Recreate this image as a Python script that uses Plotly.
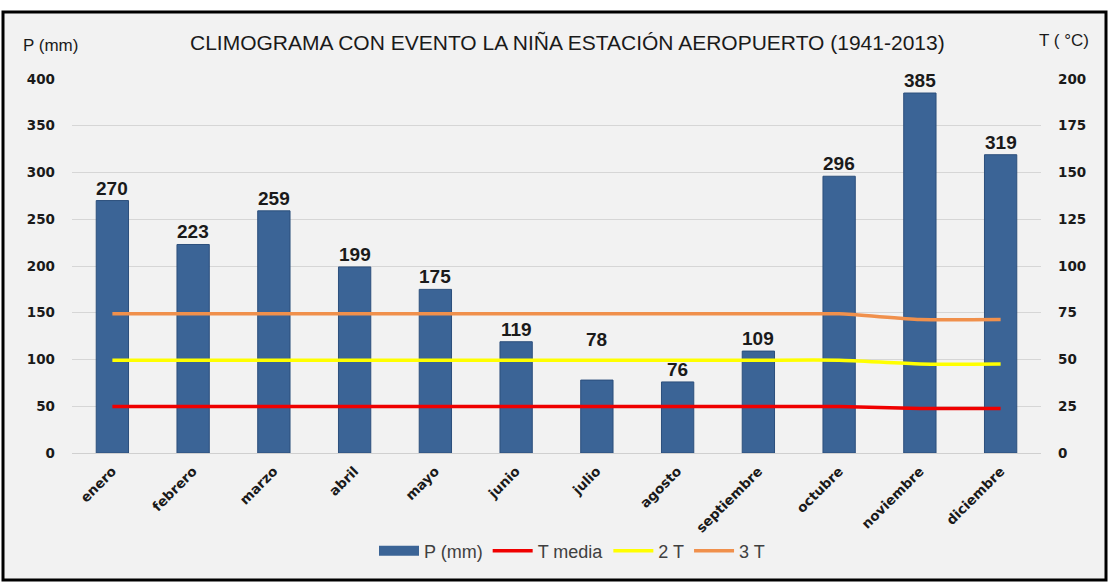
import plotly.graph_objects as go

meses = ["enero", "febrero", "marzo", "abril", "mayo", "junio", "julio",
         "agosto", "septiembre", "octubre", "noviembre", "diciembre"]
precip = [270, 223, 259, 199, 175, 119, 78, 76, 109, 296, 385, 319]
t_media = [24.8, 24.8, 24.8, 24.8, 24.8, 24.8, 24.8, 24.8, 24.8, 24.8, 23.8, 23.8]
t_2 = [49.6, 49.6, 49.6, 49.6, 49.6, 49.6, 49.6, 49.6, 49.6, 49.6, 47.6, 47.6]
t_3 = [74.4, 74.4, 74.4, 74.4, 74.4, 74.4, 74.4, 74.4, 74.4, 74.4, 71.4, 71.4]
left_ticks = [0, 50, 100, 150, 200, 250, 300, 350, 400]
right_ticks = [0, 25, 50, 75, 100, 125, 150, 175, 200]

W, H = 1110, 583
L, R, T, B = 72, 69, 79, 130
pw, ph = W - L - R, H - T - B
BAR_COLOR = "#3b6496"
# label lifted above the yellow line in the original (julio)
label_lift = {"julio": 28}


def px(x):
    return (x - L) / pw


def py(y):
    return (H - B - y) / ph


fig = go.Figure()
fig.add_trace(go.Bar(
    x=meses, y=precip, name="P (mm)", showlegend=False,
    marker=dict(color=BAR_COLOR, line=dict(color="#2c4f7c", width=1)),
    width=0.4,
))
# legend proxy for the bar series (wide rectangular swatch, as in the original)
fig.add_trace(go.Scatter(
    x=[None], y=[None], name="P (mm)", mode="lines",
    line=dict(color=BAR_COLOR, width=12), hoverinfo="skip",
))
for name, vals, col in [("T media", t_media, "#f00000"),
                        ("2 T", t_2, "#ffff00"),
                        ("3 T", t_3, "#f0904c")]:
    fig.add_trace(go.Scatter(
        x=meses, y=vals, name=name, yaxis="y2", mode="lines",
        line=dict(color=col, width=3.5, shape="spline", smoothing=0.6),
    ))

for m, v in zip(meses, precip):
    fig.add_annotation(
        x=m, y=v, xref="x", yref="y", text=f"<b>{v}</b>", showarrow=False,
        xanchor="center", yanchor="bottom", yshift=label_lift.get(m, 0),
        font=dict(family="Liberation Sans", size=19, color="#1a1a1a"),
    )

tickfont = dict(family="DejaVu Sans", size=13.5, color="#1a1a1a", weight="bold")

fig.update_layout(
    width=W, height=H,
    margin=dict(l=L, r=R, t=T, b=B),
    paper_bgcolor="white",
    plot_bgcolor="rgba(0,0,0,0)",
    bargap=0.6,
    showlegend=True,
    legend=dict(orientation="h", x=px(572), y=py(551), xanchor="center",
                yanchor="middle", font=dict(family="Liberation Sans", size=18,
                                            color="#404040"),
                itemwidth=40, traceorder="normal", bgcolor="rgba(0,0,0,0)"),
    xaxis=dict(
        tickangle=-45, showgrid=False, showline=True,
        linecolor="#d0d0d0", linewidth=1,
        tickfont=tickfont, ticklabelstandoff=4,
    ),
    yaxis=dict(
        range=[0, 400], tickvals=left_ticks, showgrid=True,
        gridcolor="#d6d6d6", gridwidth=1, zeroline=False,
        tickfont=tickfont, ticklabelstandoff=16,
    ),
    yaxis2=dict(
        range=[0, 200], tickvals=right_ticks, overlaying="y", side="right",
        showgrid=False, zeroline=False,
        tickfont=tickfont, ticklabelstandoff=16,
    ),
    shapes=[dict(type="rect", xref="paper", yref="paper",
                 x0=px(3), x1=px(1106), y0=py(580), y1=py(12),
                 fillcolor="#f2f2f2", line=dict(color="black", width=3),
                 layer="below")],
)
fig.add_annotation(
    text="CLIMOGRAMA CON EVENTO LA NIÑA ESTACIÓN AEROPUERTO (1941-2013)",
    x=px(567), y=py(42), xref="paper", yref="paper", showarrow=False,
    xanchor="center", yanchor="middle",
    font=dict(family="Liberation Sans", size=21, color="#1a1a1a"))
fig.add_annotation(
    text="P (mm)", x=px(50), y=py(45), xref="paper", yref="paper",
    showarrow=False, xanchor="center", yanchor="middle",
    font=dict(family="Liberation Sans", size=17, color="#1a1a1a"))
fig.add_annotation(
    text="T ( °C)", x=px(1064), y=py(40), xref="paper", yref="paper",
    showarrow=False, xanchor="center", yanchor="middle",
    font=dict(family="Liberation Sans", size=17, color="#1a1a1a"))

fig.write_html(
    "out.html",
    config={"displayModeBar": False},
    post_script="document.body.style.margin='0';"
                "document.body.style.overflow='hidden';",
)
